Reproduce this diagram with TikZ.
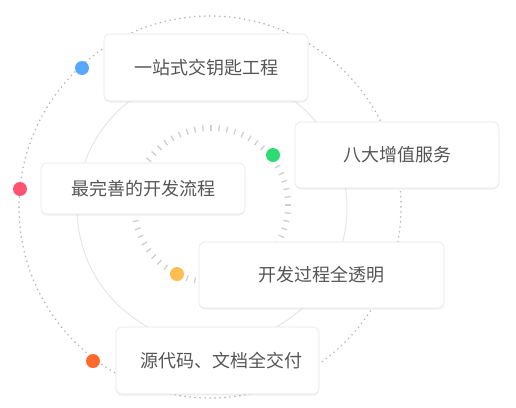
\documentclass[tikz,border=0pt]{standalone}
\usepackage{fontspec}
\setmainfont{Noto Sans CJK SC}
\usetikzlibrary{shadows}
\definecolor{txtgray}{HTML}{555555}
\definecolor{dotgray}{HTML}{B5B5B5}
\definecolor{ringgray}{HTML}{E2E2E2}
\definecolor{tickgray}{HTML}{CFCFCF}
\definecolor{cblue}{HTML}{59A8FF}
\definecolor{cgreen}{HTML}{2EDB72}
\definecolor{cred}{HTML}{FF5470}
\definecolor{cyellow}{HTML}{FFBE4F}
\definecolor{corange}{HTML}{FF6B2D}
\begin{document}
\begin{tikzpicture}[x=1pt,y=-1pt,
  card/.style={draw=black!9, line width=0.6pt, fill=white, rounded corners=6pt,
    drop shadow={shadow xshift=0pt, shadow yshift=-1.5pt, opacity=0.06, fill=black},
    text=txtgray, font=\fontsize{18}{21}\selectfont, inner sep=0pt},
  dotnode/.style={circle, inner sep=0pt, minimum size=14pt}]
\useasboundingbox (0,0) rectangle (516,407);
\fill[white] (0,0) rectangle (516,407);
\coordinate (outerc) at (210,207);
\coordinate (midc) at (212,208);
\coordinate (tickc) at (211,205);
\draw[dotgray, line width=1.8pt, line cap=round, dash pattern=on 0pt off 5pt] (outerc) circle (191);
\draw[ringgray, line width=0.8pt] (midc) circle (135);
\foreach \a in {0,6,...,354}
  \draw[tickgray, line width=1.3pt, shift={(tickc)}] (\a:74) -- (\a:80);
\node[dotnode, fill=cblue] (dblue) at (82,68) {};
\node[dotnode, fill=cgreen] (dgreen) at (273,155) {};
\node[dotnode, fill=cred] (dred) at (20,189) {};
\node[dotnode, fill=cyellow] (dyellow) at (177,274) {};
\node[dotnode, fill=corange] (dorange) at (93,361) {};
\node[card, minimum width=204pt, minimum height=67pt] (b1) at (206,67.5) {一站式交钥匙工程};
\node[card, minimum width=204pt, minimum height=66pt] (b2) at (397,155) {八大增值服务};
\node[card, minimum width=204pt, minimum height=51pt] (b3) at (143,188.5) {最完善的开发流程};
\node[card, minimum width=245pt, minimum height=66pt] (b4) at (321.5,275) {开发过程全透明};
\node[card, minimum width=203pt, minimum height=67pt] (b5) at (217.5,360.5) {\hspace{8pt}源代码、文档全交付};
\end{tikzpicture}
\end{document}
